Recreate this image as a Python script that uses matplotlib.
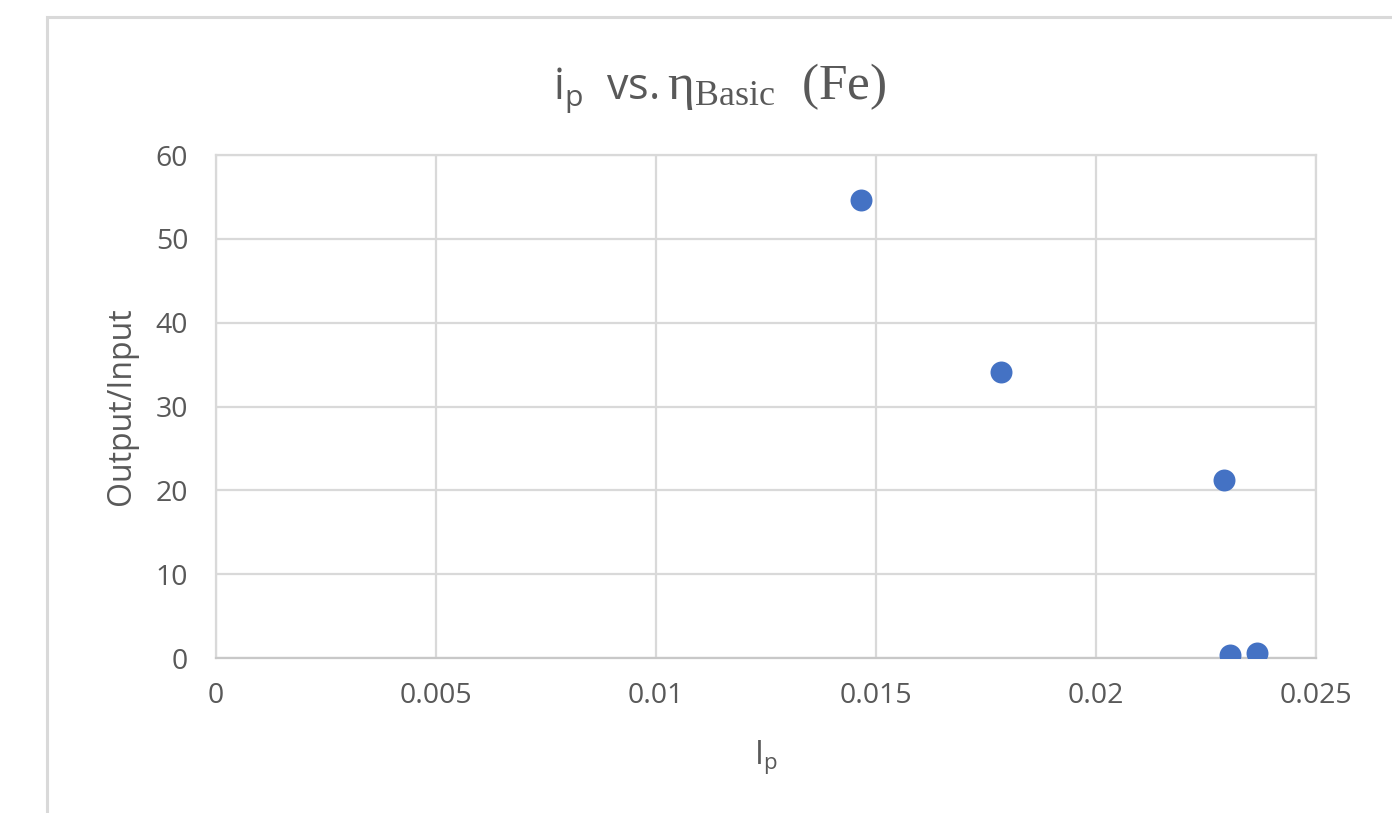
import matplotlib.pyplot as plt
from matplotlib.patches import Rectangle

# data
ip = [0.01466, 0.01784, 0.02291, 0.02305, 0.02366]
ratio = [54.6, 34.1, 21.2, 0.4, 0.6]
x_ticks = [0, 0.005, 0.01, 0.015, 0.02, 0.025]
x_tick_labels = ['0', '0.005', '0.01', '0.015', '0.02', '0.025']
y_ticks = [0, 10, 20, 30, 40, 50, 60]

grid_c = '#d9d9d9'
text_c = '#595959'
plt.rcParams['font.family'] = ['Open Sans', 'DejaVu Sans']

fig = plt.figure(figsize=(13.92, 8.13), dpi=100)
ax = fig.add_axes([216/1392, 1 - 658/813, 1100/1392, 503/813])

# chart border (runs off the right and bottom edge)
fig.patches.append(Rectangle((47/1392, -0.2), 1.2, 0.2 + 1 - 17/813,
                             transform=fig.transFigure, fill=False,
                             edgecolor=grid_c, linewidth=2.2))

ax.scatter(ip, ratio, s=250, color='#4472C4', zorder=3, linewidths=0)

ax.set_xlim(0, 0.025)
ax.set_ylim(0, 60)
ax.set_xticks(x_ticks)
ax.set_xticklabels(x_tick_labels)
ax.set_yticks(y_ticks)
ax.grid(True, color=grid_c, linewidth=1.6)
ax.set_axisbelow(True)
for s in ax.spines.values():
    s.set_color(grid_c)
    s.set_linewidth(1.6)
ax.spines['bottom'].set_color('#c8c8c8')
ax.tick_params(length=0, labelsize=20.5, labelcolor=text_c)
ax.tick_params(axis='y', pad=20)
ax.tick_params(axis='x', pad=17)

ax.set_ylabel('Output/Input', fontsize=23, color=text_c, va='center')
ax.yaxis.set_label_coords((121 - 216) / 1100, (658 - 406) / 503)
ax.set_xlabel(r'$\mathregular{I_p}$', fontsize=23, color=text_c, va='center')
ax.xaxis.set_label_coords((766 - 216) / 1100, (658 - 757) / 503)

# title: sans part then serif part on the same baseline
base_y = 1 - 99/813
t1 = fig.text(553/1392, base_y, r'$\mathregular{i_p}$  vs.',
              fontsize=31, color=text_c, ha='left', va='baseline')
fig.canvas.draw()
bb = t1.get_window_extent(renderer=fig.canvas.get_renderer())
fig.text((bb.x1 + 9) / fig.bbox.width, base_y, r'$\mathregular{\eta_{Basic}}$  (Fe)',
         fontsize=37, color=text_c, family='Liberation Serif',
         ha='left', va='baseline')

fig.savefig('out.png', dpi=100)
